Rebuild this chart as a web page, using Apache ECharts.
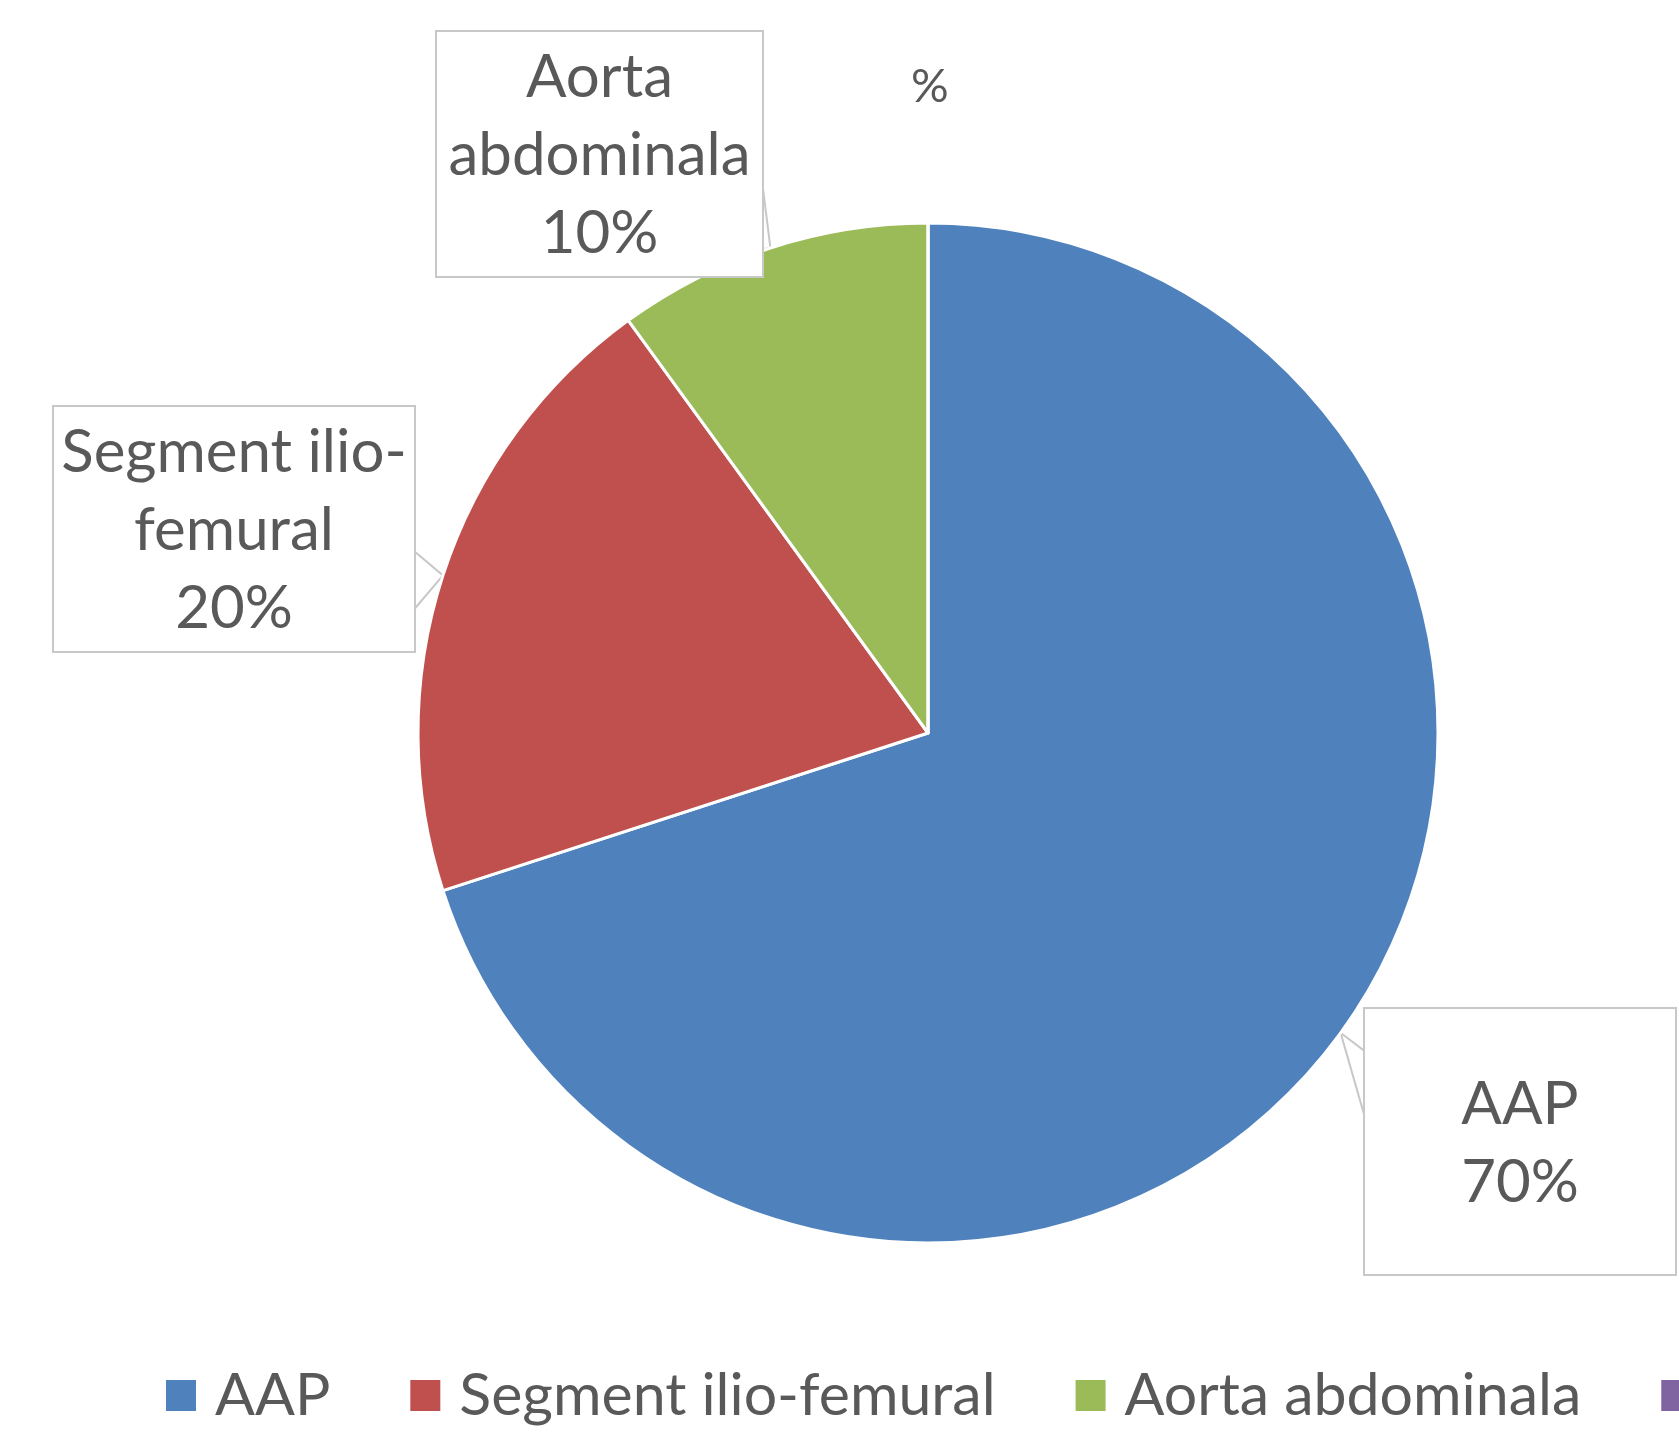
<!DOCTYPE html>
<html>
<head>
<meta charset="utf-8">
<title>AAP</title>
<script src="https://cdn.jsdelivr.net/npm/echarts@6/dist/echarts.min.js"></script>
<style>
  html, body { margin: 0; padding: 0; background: #fff; }
  #main { width: 1679px; height: 1437px; }
</style>
</head>
<body>
<div id="main"></div>
<script>
var categories = ['AAP', 'Segment ilio-femural', 'Aorta abdominala', ' '];
var values = [70, 20, 10, 0];
var labelNames = ['AAP', 'Segment ilio-\nfemural', 'Aorta\nabdominala', ''];
var colors = ['#4F81BD', '#C0504D', '#9BBB59', '#8064A2'];

// casete etichete: pozitie, marime, baza sagetii (fractiuni din inaltime)
var boxes = [
  { x: 1365, y: 1009, w: 310, h: 265, side: 'left', b1: 0.16, b2: 0.41, pad: [57, 0, 52, 0] },
  { x: 54, y: 407, w: 360, h: 244, side: 'right', b1: 0.59, b2: 0.83, pad: [7, 0, 3, 0] },
  { x: 437, y: 32, w: 325, h: 244, side: 'right', b1: 0.61, b2: 0.89, pad: [7, 0, 3, 0] },
  null
];
var pieCenter = [928, 733];
var pieRadius = 510;

var myChart = echarts.init(document.getElementById('main'));

var pieData = categories.map(function (name, i) {
  var item = { name: name, value: values[i], itemStyle: { color: colors[i] } };
  if (boxes[i]) {
    item.label = { width: boxes[i].w, padding: boxes[i].pad };
  } else {
    item.label = { show: false };
    item.labelLine = { show: false };
  }
  return item;
});

var option = {
  backgroundColor: '#fff',
  animation: false,
  title: {
    text: '%',
    left: 911,
    top: 63,
    padding: 0,
    textStyle: { fontSize: 47, fontWeight: 'normal', color: '#595959', fontFamily: 'Lato' }
  },
  legend: {
    left: 166,
    top: 1366,
    width: 4000,
    padding: 0,
    icon: 'rect',
    itemWidth: 30,
    itemHeight: 31,
    itemGap: 80,
    itemStyle: { borderWidth: 0 },
    data: categories,
    textStyle: { fontSize: 59, color: '#595959', fontFamily: 'Lato', padding: [0, 0, 0, 14] }
  },
  series: [{
    type: 'pie',
    center: pieCenter,
    radius: pieRadius,
    startAngle: 90,
    clockwise: true,
    data: pieData,
    itemStyle: { borderColor: '#fff', borderWidth: 3 },
    label: {
      show: true,
      position: 'outside',
      formatter: function (p) {
        return labelNames[p.dataIndex] + '\n' + Math.round(p.percent) + '%';
      },
      fontSize: 60,
      lineHeight: 78,
      color: '#595959',
      fontFamily: 'Lato',
      align: 'center',
      backgroundColor: '#fff',
      borderColor: '#C8C8C8',
      borderWidth: 2
    },
    labelLine: {
      show: true,
      lineStyle: { color: '#C8C8C8', width: 2 }
    },
    labelLayout: function (params) {
      var b = boxes[params.dataIndex];
      if (!b) return {};
      var tip;
      if (params.labelLinePoints && params.labelLinePoints[0]) {
        tip = params.labelLinePoints[0];
      } else {
        var mid = 90 - (params.dataIndex === 0 ? 126 : params.dataIndex === 1 ? 288 : 342);
        var rad = mid * Math.PI / 180;
        tip = [pieCenter[0] + pieRadius * Math.cos(rad), pieCenter[1] - pieRadius * Math.sin(rad)];
      }
      var ex = b.side === 'left' ? b.x : b.x + b.w;
      return {
        x: b.x + b.w / 2,
        y: b.y,
        align: 'center',
        verticalAlign: 'top',
        labelLinePoints: [[ex, b.y + b.h * b.b1], tip, [ex, b.y + b.h * b.b2]]
      };
    }
  }]
};

myChart.setOption(option);
</script>
</body>
</html>
